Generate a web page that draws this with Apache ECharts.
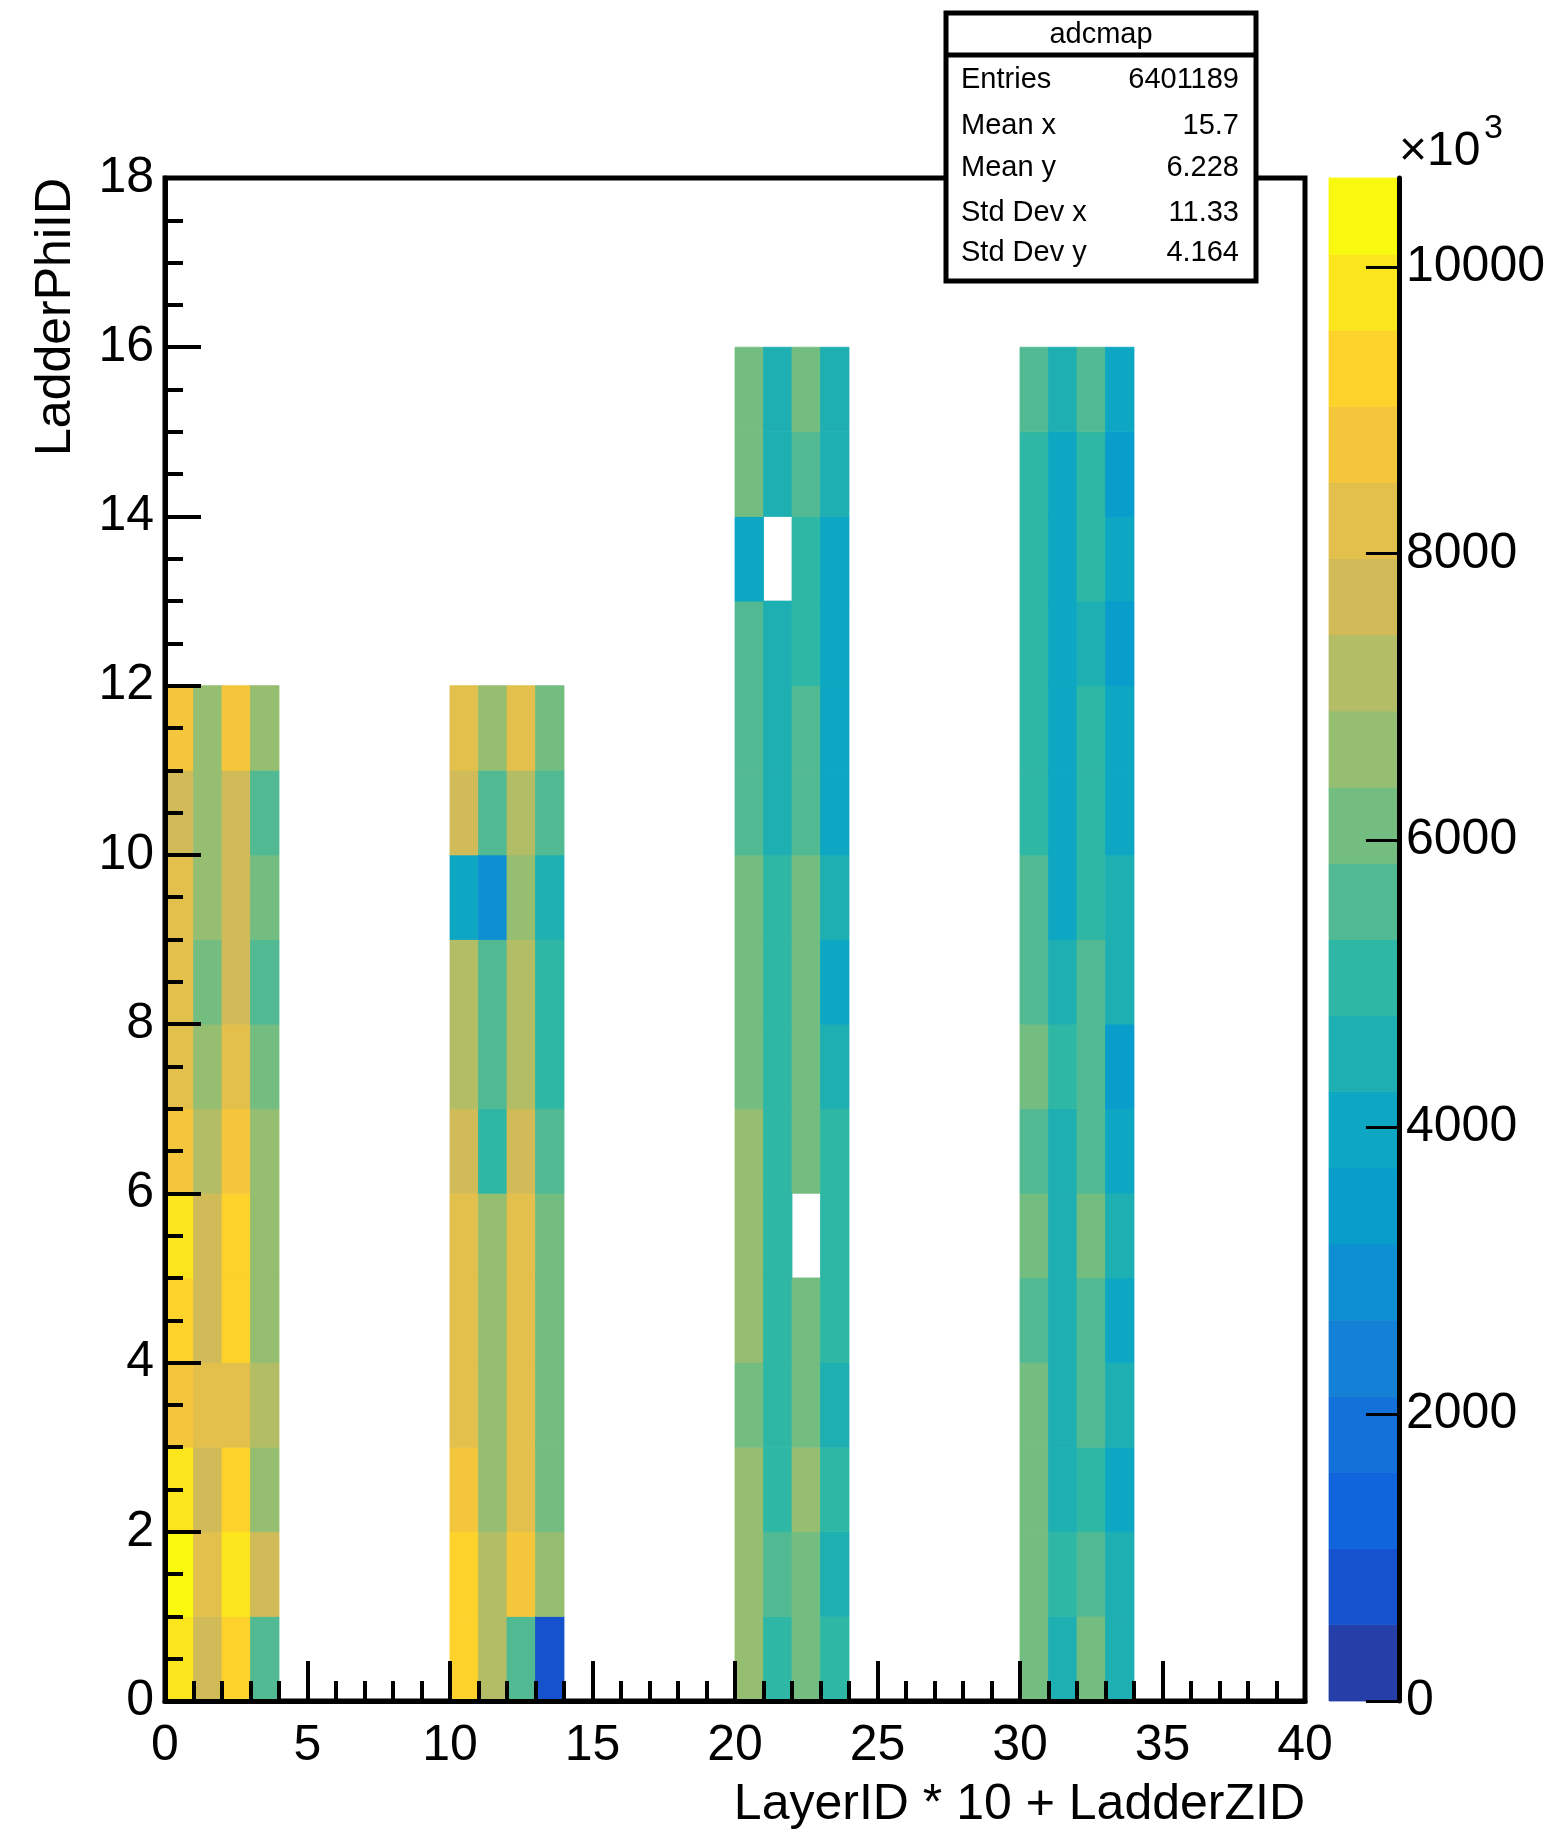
<!DOCTYPE html>
<html><head><meta charset="utf-8">
<script src="https://cdn.jsdelivr.net/npm/echarts@6.0.0/dist/echarts.min.js"></script>
<style>html,body{margin:0;padding:0;background:#fff}#c{width:1548px;height:1836px}</style>
</head><body><div id="c"></div>
<script>
// ---------------- data ----------------
const histName = 'adcmap';
const xTitle = 'LayerID * 10 + LadderZID';
const yTitle = 'LadderPhiID';
const xRange = [0, 40];
const yRange = [0, 18];
const zMax = 10620;            // top of colour scale (x10^3)
const nContours = 20;
const zTicks = [0, 2000, 4000, 6000, 8000, 10000];
const statsLabels = ['Entries', 'Mean x', 'Mean y', 'Std Dev x', 'Std Dev y'];
const statsValues = ['6401189', '15.7', '6.228', '11.33', '4.164'];

// bin contents (x10^3) per x bin, listed from y bin 0 upward; null = empty bin
const col0  = [9800,10350,9800,8750,9300,9800,8750,8250,8250,8250,7700,8750];
const col1  = [7700,8250,7700,8250,7700,7700,7150,6650,6100,6650,6650,6650];
const col2  = [9300,9800,9300,8250,9300,9300,8750,8250,7700,7700,7700,8750];
const col3  = [5600,7700,6650,7150,6650,6650,6650,6100,5600,6100,5600,6650];
const col10 = [9300,9300,8750,8250,8250,8250,7700,7150,7150,4000,7700,8250];
const col11 = [7150,7150,6650,6650,6650,6650,5050,5600,5600,2900,5600,6650];
const col12 = [5600,8750,8250,8250,8250,8250,7700,7150,7150,6650,7150,8250];
const col13 = [800,6650,6100,6100,6100,6100,5600,5050,5050,4500,5600,6100];
const col20 = [6650,6650,6650,6100,6650,6650,6650,6100,6100,6100,5600,5600,5600,4000,6100,6100];
const col21 = [5050,5600,5050,5050,5050,5050,5050,5050,5050,5050,4500,4500,4500,null,4500,4500];
const col22 = [6100,6100,6650,6100,6100,null,6100,6100,6100,6100,5600,5600,5050,5050,5600,6100];
const col23 = [5050,4500,5050,4500,5050,5050,5050,4500,4000,4500,4000,4000,4000,4000,4500,4500];
const col30 = [6100,6100,6100,6100,5600,6100,5600,6100,5600,5600,5050,5050,5050,5050,5050,5600];
const col31 = [4500,5050,4500,4500,4500,4500,4500,5050,4500,4000,4000,4000,4000,4000,4000,4500];
const col32 = [6100,5600,5050,5600,5600,6100,5600,5600,5600,5050,5050,5050,4500,5050,5050,5600];
const col33 = [4500,4500,4000,4500,4000,4500,4000,3450,4500,4500,4000,4000,3450,4000,3450,4000];
const columnBins = [0,1,2,3,10,11,12,13,20,21,22,23,30,31,32,33];
const columnVals = [col0,col1,col2,col3,col10,col11,col12,col13,col20,col21,col22,col23,col30,col31,col32,col33];

// ---------------- build ----------------
const cells = [];
columnBins.forEach((x, i) => {
  columnVals[i].forEach((v, y) => { if (v != null) cells.push([x, y, v]); });
});

// ROOT kBird palette (255 colours), then 20 contour colours
function birdPalette() {
  const st = [0, .125, .25, .375, .5, .625, .75, .875, 1];
  const r = [0.2082, 0.0592, 0.0780, 0.0232, 0.1802, 0.5301, 0.8186, 0.9956, 0.9764];
  const g = [0.1664, 0.3599, 0.5041, 0.6419, 0.7178, 0.7492, 0.7328, 0.7862, 0.9832];
  const b = [0.5293, 0.8684, 0.8385, 0.7914, 0.6425, 0.4662, 0.3499, 0.1968, 0.0539];
  const nc = 255, pal = [];
  for (let s = 1; s < st.length; s++) {
    const n = Math.floor(nc * st[s]) - Math.floor(nc * st[s - 1]);
    for (let c = 0; c < n; c++) {
      pal.push([r[s-1] + c*(r[s]-r[s-1])/n, g[s-1] + c*(g[s]-g[s-1])/n, b[s-1] + c*(b[s]-b[s-1])/n]);
    }
  }
  return pal;
}
const pal = birdPalette();
const bandColors = [];
for (let i = 0; i < nContours; i++) {
  const idx = Math.min(pal.length - 1, Math.floor((i + 0.99) * pal.length / nContours));
  const c = pal[idx];
  bandColors.push('rgb(' + Math.round(c[0]*255) + ',' + Math.round(c[1]*255) + ',' + Math.round(c[2]*255) + ')');
}
const step = zMax / nContours;
const pieces = bandColors.map((c, i) => ({ min: i * step, max: (i + 1) * step, color: c }));
const barData = bandColors.map((c, i) => [i * step, (i + 1) * step, i]);

const FF = '"Liberation Sans", Arial, Helvetica, sans-serif';
const chart = echarts.init(document.getElementById('c'), null, { renderer: 'canvas' });

const statsGraphics = [
  { type: 'rect', z: 100, shape: { x: 946, y: 13, width: 310, height: 268 },
    style: { fill: '#fff', stroke: '#000', lineWidth: 5 } },
  { type: 'line', z: 101, shape: { x1: 946, y1: 55, x2: 1256, y2: 55 },
    style: { stroke: '#000', lineWidth: 5 } },
  { type: 'text', z: 102, x: 1101, y: 35,
    style: { text: histName, font: '29px ' + FF, fill: '#000', align: 'center', verticalAlign: 'middle' } }
];
const rowY = [80, 126, 168, 213, 253];
statsLabels.forEach((t, i) => {
  statsGraphics.push({ type: 'text', z: 102, x: 961, y: rowY[i],
    style: { text: t, font: '29px ' + FF, fill: '#000', align: 'left', verticalAlign: 'middle' } });
  statsGraphics.push({ type: 'text', z: 102, x: 1239, y: rowY[i],
    style: { text: statsValues[i], font: '29px ' + FF, fill: '#000', align: 'right', verticalAlign: 'middle' } });
});

const plain = v => String(v);

const option = {
  animation: false,
  backgroundColor: '#fff',
  textStyle: { fontFamily: FF, color: '#000' },
  grid: [
    { left: 165, top: 178, width: 1140, height: 1523, show: true, borderColor: '#000', borderWidth: 5, backgroundColor: 'transparent' },
    { left: 1329, top: 178, width: 70, height: 1523, show: false }
  ],
  visualMap: { type: 'piecewise', show: false, seriesIndex: 0, dimension: 2, pieces: pieces },
  xAxis: [
    { type: 'value', gridIndex: 0, min: xRange[0], max: xRange[1], interval: 5, z: 10,
      axisLine: { show: true, onZero: false, lineStyle: { color: '#000', width: 5 } },
      axisTick: { show: true, inside: true, length: 40, lineStyle: { color: '#000', width: 4 } },
      minorTick: { show: true, splitNumber: 5, length: 20, lineStyle: { color: '#000', width: 4 } },
      splitLine: { show: false }, minorSplitLine: { show: false },
      axisLabel: { fontSize: 50, fontFamily: FF, color: '#000', margin: 20, formatter: plain } },
    { type: 'value', gridIndex: 1, min: 0, max: 1, show: false }
  ],
  yAxis: [
    { type: 'value', gridIndex: 0, min: yRange[0], max: yRange[1], interval: 2, z: 10,
      axisLine: { show: true, onZero: false, lineStyle: { color: '#000', width: 5 } },
      axisTick: { show: true, inside: true, length: 36, lineStyle: { color: '#000', width: 4 } },
      minorTick: { show: true, splitNumber: 4, length: 18, lineStyle: { color: '#000', width: 4 } },
      splitLine: { show: false }, minorSplitLine: { show: false },
      axisLabel: { fontSize: 50, fontFamily: FF, color: '#000', margin: 11, formatter: plain } },
    { type: 'value', gridIndex: 1, min: 0, max: zMax, interval: 2000, position: 'right', z: 10,
      axisLine: { show: true, onZero: false, lineStyle: { color: '#000', width: 5 } },
      axisTick: { show: true, inside: true, length: 33, customValues: zTicks, lineStyle: { color: '#000', width: 3 } },
      splitLine: { show: false },
      axisLabel: { fontSize: 50, fontFamily: FF, color: '#000', margin: 7, customValues: zTicks, formatter: plain } }
  ],
  series: [
    { type: 'custom', xAxisIndex: 0, yAxisIndex: 0, data: cells, encode: { x: 0, y: 1 },
      renderItem: function (params, api) {
        const x = api.value(0), y = api.value(1);
        const p0 = api.coord([x, y + 1]);
        const p1 = api.coord([x + 1, y]);
        const col = api.visual('color');
        return { type: 'rect', shape: { x: p0[0], y: p0[1], width: p1[0] - p0[0], height: p1[1] - p0[1] },
                 style: { fill: col, stroke: col, lineWidth: 0.8 } };
      } },
    { type: 'custom', xAxisIndex: 1, yAxisIndex: 1, data: barData, encode: { y: [0, 1] },
      renderItem: function (params, api) {
        const p0 = api.coord([0, api.value(1)]);
        const p1 = api.coord([1, api.value(0)]);
        const col = bandColors[api.value(2)];
        return { type: 'rect', shape: { x: p0[0], y: p0[1], width: p1[0] - p0[0], height: p1[1] - p0[1] },
                 style: { fill: col, stroke: col, lineWidth: 0.8 } };
      } }
  ],
  graphic: [
    { type: 'text', x: 1305, y: 1805,
      style: { text: xTitle, font: '50px ' + FF, fill: '#000', align: 'right', verticalAlign: 'middle' } },
    { type: 'text', x: 56, y: 178, rotation: Math.PI / 2,
      style: { text: yTitle, font: '50px ' + FF, fill: '#000', align: 'right', verticalAlign: 'middle' } },
    { type: 'text', x: 1399, y: 152,
      style: { text: '×10', font: '48px ' + FF, fill: '#000', align: 'left', verticalAlign: 'middle' } },
    { type: 'text', x: 1484, y: 129,
      style: { text: '3', font: '34px ' + FF, fill: '#000', align: 'left', verticalAlign: 'middle' } }
  ].concat(statsGraphics)
};
chart.setOption(option);
</script>
</body></html>
